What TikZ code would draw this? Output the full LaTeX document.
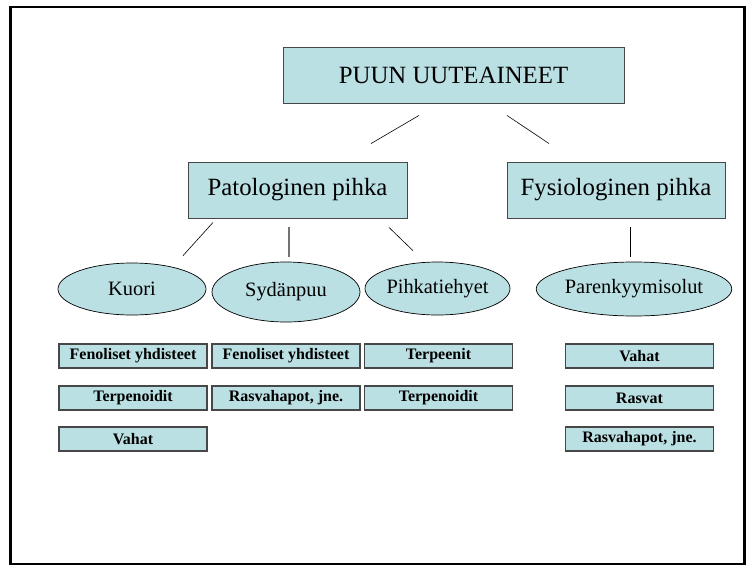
\documentclass[tikz,border=0pt]{standalone}
\usepackage{fontspec}
\setmainfont{Liberation Serif}
\usepackage{tikz}
\usetikzlibrary{calc, shapes.geometric}
\definecolor{ptuff}{RGB}{187,224,227}
\definecolor{pedge}{HTML}{474747}

\begin{document}
\begin{tikzpicture}[x=1pt, y=-1pt,
  headbox/.style={draw=pedge, fill=ptuff, line width=0.9pt, inner sep=0pt,
    minimum height=56pt, font=\fontsize{24.8}{28}\selectfont},
  partell/.style={ellipse, draw=black, fill=ptuff, line width=0.7pt, inner sep=0pt,
    font=\fontsize{20.4}{24}\selectfont},
  itembox/.style={draw=pedge, fill=ptuff, line width=1.1pt, inner sep=0pt,
    minimum width=148pt, minimum height=24pt, font=\fontsize{16}{18}\selectfont\bfseries},
  link/.style={draw=black, line width=0.6pt}]
\useasboundingbox (0,0) rectangle (746,565);
\draw[line width=2.5pt] (10.5,6.8) rectangle (744.5,563.8);
% top levels
\node[headbox, minimum width=341pt] (root) at (453.5,75) {PUUN UUTEAINEET};
\node[headbox, minimum width=219pt] (pat) at (297.5,190) {Patologinen pihka};
\node[headbox, minimum width=218pt] (fys) at (616,190) {Fysiologinen pihka};
% where the pitch is found
\node[partell, minimum width=148pt, minimum height=52pt] (kuori) at (132,289) {Kuori};
\node[partell, minimum width=148pt, minimum height=60pt] (syd) at (286,292) {Sydänpuu};
\node[partell, minimum width=145pt, minimum height=53pt] (pihka) at (437.5,288.5) {Pihkatiehyet};
\node[partell, minimum width=160pt, minimum height=54pt] (paren) at (634,289) {Parenkyymisolut};
% compounds
\node[itembox] (k1) at (133,356) {Fenoliset yhdisteet};
\node[itembox] (k2) at (133,398) {Terpenoidit};
\node[itembox] (k3) at (133,439) {Vahat};
\node[itembox] (s1) at (286,356) {Fenoliset yhdisteet};
\node[itembox] (s2) at (286,398) {Rasvahapot, jne.};
\node[itembox] (p1) at (438.5,356) {Terpeenit};
\node[itembox] (p2) at (438.5,398) {Terpenoidit};
\node[itembox] (r1) at (639.5,356) {Vahat};
\node[itembox] (r2) at (639.5,398) {Rasvat};
\node[itembox] (r3) at (639.5,439) {Rasvahapot, jne.};
% links
\draw[link] ($(root.south)+(-34.5,12)$) -- ($(pat.north)+(73.5,-18)$);
\draw[link] ($(root.south)+(53.5,12)$) -- ($(fys.north)+(-67,-18)$);
\draw[link] ($(pat.south)+(-84.5,4)$) -- ($(kuori.north)+(51,-7)$);
\draw[link, draw=black!55, line width=1.6pt] ($(pat.south)+(-8.5,9)$) -- ($(syd.north)+(3,-5)$);
\draw[link] ($(pat.south)+(91.5,9)$) -- ($(pihka.north)+(-24.5,-11)$);
\draw[link] ($(fys.south)+(14.5,9)$) -- ($(paren.north)+(-3.5,-5)$);
\end{tikzpicture}
\end{document}
